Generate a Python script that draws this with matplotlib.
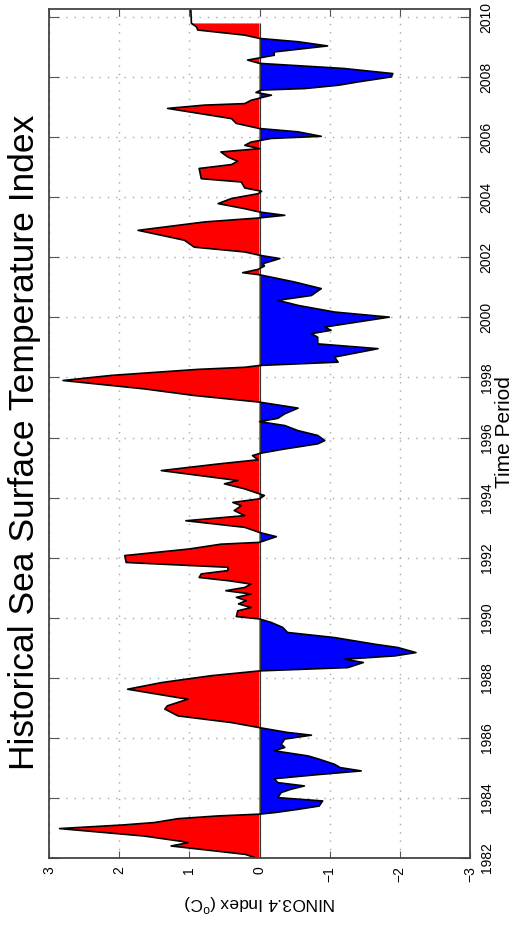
import numpy as np
import matplotlib.pyplot as plt

plt.rcParams['font.family'] = ['Liberation Sans', 'DejaVu Sans']
plt.rcParams['mathtext.fontset'] = 'custom'
plt.rcParams['mathtext.rm'] = 'Liberation Sans'

# NINO3.4 index (decimal year, degC)
years = [1982.00, 1982.12, 1982.40, 1982.51, 1982.55, 1982.73, 1982.98, 1983.10, 1983.18, 1983.31,
         1983.40, 1983.46, 1983.51, 1983.62, 1983.73, 1983.90, 1984.01, 1984.18, 1984.29, 1984.40,
         1984.51, 1984.64, 1984.77, 1984.90, 1985.01, 1985.12, 1985.29, 1985.40, 1985.57, 1985.68,
         1985.79, 1985.96, 1986.09, 1986.18, 1986.34, 1986.51, 1986.73, 1986.96, 1987.07, 1987.29,
         1987.34, 1987.62, 1987.84, 1988.07, 1988.23, 1988.34, 1988.51, 1988.62, 1988.73, 1988.84,
         1989.01, 1989.12, 1989.34, 1989.51, 1989.68, 1989.84, 1989.96, 1990.04, 1990.23, 1990.34,
         1990.46, 1990.57, 1990.68, 1990.79, 1990.90, 1991.01, 1991.12, 1991.23, 1991.34, 1991.46,
         1991.57, 1991.68, 1991.84, 1992.07, 1992.29, 1992.45, 1992.51, 1992.70, 1992.84, 1993.01,
         1993.23, 1993.40, 1993.57, 1993.73, 1993.84, 1993.96, 1994.07, 1994.14, 1994.29, 1994.46,
         1994.57, 1994.68, 1994.90, 1995.12, 1995.26, 1995.40, 1995.48, 1995.62, 1995.79, 1995.90,
         1996.07, 1996.23, 1996.40, 1996.53, 1996.64, 1996.79, 1996.98, 1997.18, 1997.23, 1997.40,
         1997.62, 1997.90, 1998.07, 1998.27, 1998.34, 1998.40, 1998.51, 1998.68, 1998.96, 1999.12,
         1999.34, 1999.46, 1999.57, 1999.68, 2000.01, 2000.18, 2000.40, 2000.57, 2000.73, 2000.96,
         2001.18, 2001.34, 2001.42, 2001.49, 2001.60, 2001.71, 2001.79, 2001.96, 2002.07, 2002.18,
         2002.34, 2002.57, 2002.90, 2003.18, 2003.31, 2003.40, 2003.51, 2003.62, 2003.79, 2003.96,
         2004.12, 2004.20, 2004.31, 2004.51, 2004.62, 2004.96, 2005.09, 2005.20, 2005.34, 2005.51,
         2005.62, 2005.73, 2005.84, 2005.96, 2006.03, 2006.18, 2006.29, 2006.46, 2006.62, 2006.96,
         2007.07, 2007.12, 2007.23, 2007.29, 2007.40, 2007.49, 2007.57, 2007.62, 2007.73, 2007.84,
         2008.01, 2008.12, 2008.29, 2008.46, 2008.57, 2008.64, 2008.73, 2008.84, 2009.04, 2009.18,
         2009.29, 2009.40, 2009.57, 2009.68, 2009.79, 2010.30]
nino = [0.05, 0.20, 1.26, 1.02, 1.10, 1.64, 2.85, 1.95, 1.50, 1.16,
        0.60, 0.00, -0.21, -0.55, -0.85, -0.90, -0.26, -0.31, -0.45, -0.64,
        -0.26, -0.21, -0.80, -1.45, -1.15, -1.07, -0.85, -0.69, -0.21, -0.36,
        -0.31, -0.36, -0.74, -0.40, 0.00, 0.40, 1.16, 1.35, 1.31, 1.02,
        1.16, 1.88, 1.40, 0.69, 0.00, -1.26, -1.48, -1.21, -1.93, -2.23,
        -1.97, -1.64, -1.07, -0.40, -0.33, -0.17, 0.00, 0.33, 0.31, 0.12,
        0.30, 0.19, 0.33, 0.12, 0.48, 0.21, 0.12, 0.43, 0.86, 0.83,
        0.45, 0.45, 1.90, 1.92, 1.00, 0.55, 0.00, -0.24, 0.00, 0.21,
        1.05, 0.21, 0.36, 0.26, 0.38, 0.00, -0.07, 0.02, 0.21, 0.50,
        0.31, 0.67, 1.40, 0.59, 0.02, 0.10, -0.02, -0.36, -0.83, -0.93,
        -0.83, -0.55, -0.36, 0.00, -0.26, -0.36, -0.55, 0.00, 0.21, 0.93,
        1.64, 2.80, 2.11, 0.88, 0.21, 0.00, -1.12, -1.07, -1.69, -0.83,
        -0.83, -0.74, -1.02, -0.93, -1.85, -1.07, -0.55, -0.26, -0.74, -0.88,
        -0.50, -0.17, 0.00, 0.24, 0.02, -0.07, -0.05, -0.29, 0.00, 0.21,
        0.93, 1.07, 1.73, 0.78, 0.02, -0.36, 0.00, 0.21, 0.59, 0.40,
        0.02, -0.03, 0.21, 0.26, 0.83, 0.86, 0.40, 0.31, 0.45, 0.55,
        0.00, 0.21, 0.12, -0.17, -0.88, -0.55, 0.00, 0.33, 0.40, 1.31,
        0.78, 0.21, 0.12, 0.02, -0.17, 0.05, -0.02, -0.64, -1.12, -1.40,
        -1.88, -1.90, -1.20, 0.00, 0.17, 0.00, -0.21, -0.21, -0.97, -0.55,
        0.00, 0.21, 0.88, 0.90, 0.97, 0.98]

year_ticks = list(range(1982, 2011, 2))
value_ticks = [3, 2, 1, 0, -1, -2, -3]
value_labels = ['3', '2', '1', '0', '\u22121', '\u22122', '\u22123']

t = np.array(years)
v = np.array(nino)
tf, vf = t[:-1], v[:-1]

fig = plt.figure(figsize=(5.14, 9.25), dpi=100)
ax = fig.add_axes([49/514, 1 - 858/925, 421/514, 849/925])

ax.fill_betweenx(tf, vf, 0, where=vf >= 0, interpolate=True, color='#ff0000', linewidth=0)
ax.fill_betweenx(tf, vf, 0, where=vf <= 0, interpolate=True, color='#0000ff', linewidth=0)
ax.vlines(0, tf[0], tf[-1], color='#333333', lw=0.8)
ax.plot(v, t, color='black', lw=1.2)

ax.set_xlim(3, -3)
ax.set_ylim(1982, 2010.27)
ax.set_xticks(value_ticks)
ax.set_xticklabels(value_labels)
ax.set_yticks(year_ticks)
ax.grid(True, color='#a8a8a8', linestyle=(0, (1, 5)), lw=1.0)
ax.set_axisbelow(True)

ax.tick_params(axis='x', direction='in', length=5, top=True, bottom=True,
               labelrotation=90, labelsize=10, pad=6, color='#555555')
ax.tick_params(axis='y', direction='in', length=7, left=True, right=True,
               labelleft=False, labelright=True, labelrotation=90, labelsize=10,
               pad=7, color='#555555')
for lab in ax.get_yticklabels():
    lab.set_va('center')
for s in ax.spines.values():
    s.set_color('#444444')
    s.set_linewidth(1.3)

fig.text(25/514, 1 - 442/925, 'Historical Sea Surface Temperature Index',
         rotation=90, ha='center', va='center', fontsize=25.5)
fig.text(505/514, 1 - 432/925, 'Time Period', rotation=90,
         ha='center', va='center', fontsize=15)
fig.text(260/514, 1 - 903/925, r'NINO3.4 Index ($^{\rm o}$C)', rotation=180,
         ha='center', va='center', fontsize=12.5)

fig.savefig('out.png', dpi=100)
